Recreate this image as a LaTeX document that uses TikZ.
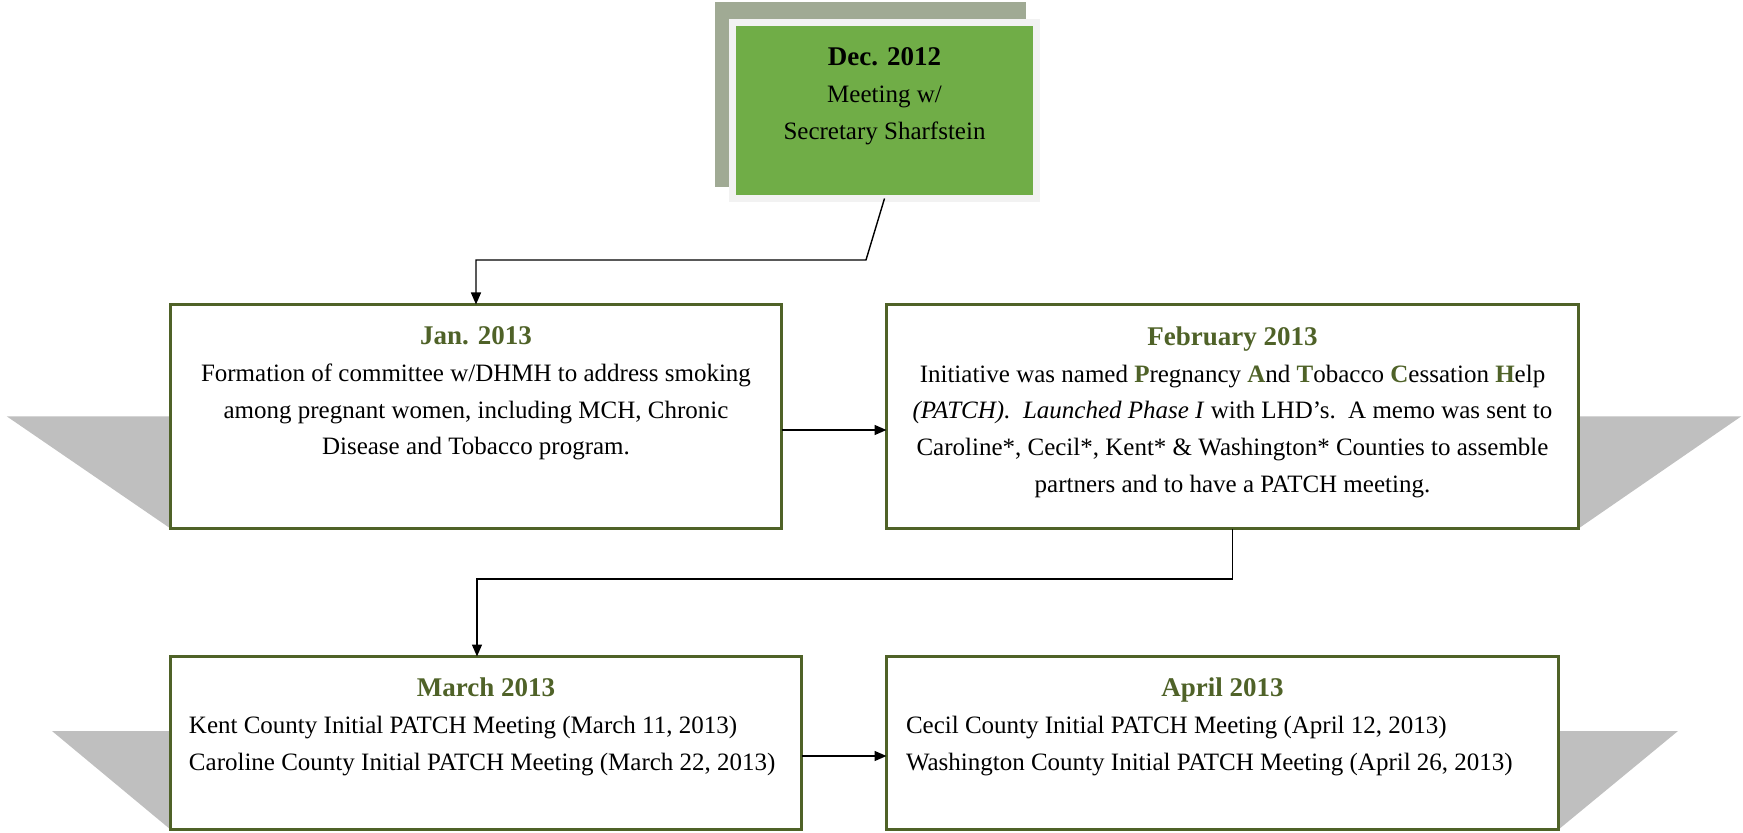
\documentclass[tikz,border=0pt]{standalone}
\usepackage{fontspec}
\setmainfont{Liberation Serif}
\usetikzlibrary{positioning,arrows.meta,backgrounds}

\definecolor{patchgreen}{HTML}{4F6228}
\definecolor{decgreen}{HTML}{70AD47}
\definecolor{decframe}{HTML}{F2F2F2}
\definecolor{decshade}{HTML}{A0AA94}
\definecolor{ribbon}{HTML}{BFBFBF}

\newcommand{\ltr}[1]{\textcolor{patchgreen}{\textbf{#1}}}
\newcommand{\ttl}[1]{{\fontsize{13.5}{18.4}\selectfont\bfseries\color{patchgreen}#1}}

\begin{document}
\begin{tikzpicture}
[every node/.style={inner sep=0mm,outer sep=0mm,font=\fontsize{12.5}{18.4}\selectfont},
 box/.style={rectangle,draw=patchgreen,line width=1.5pt,fill=white},
 decbox/.style={rectangle,fill=decgreen,draw=decframe,line width=3.5pt,minimum width=152pt,minimum height=88pt},
 txt/.style={align=center},
 lst/.style={align=left},
 >={Triangle[length=6pt,width=5pt]},
 line width=0.7pt]
\useasboundingbox (-442.25pt,55.25pt) rectangle (429.25pt,-361.25pt);

\node[decbox] (dec) {};
\node[box,minimum width=305.5pt,minimum height=112pt] (jan) [on grid,below left=153pt and 204.25pt of dec] {};
\node[box,minimum width=346pt,minimum height=112pt]   (feb) [on grid,right=378.25pt of jan] {};
\node[box,minimum width=315.5pt,minimum height=86.5pt] (mar) [on grid,below right=163.25pt and 5pt of jan] {};
\node[box,minimum width=336pt,minimum height=86.5pt]  (apr) [on grid,right=368.25pt of mar] {};

\node[txt] (dectxt) [below=12.75pt of dec.north]
  {{\fontsize{13.5}{18.4}\selectfont\bfseries Dec. 2012}\\Meeting w/\\Secretary Sharfstein};
\node[txt] (jantxt) [below=11pt of jan.north]
  {\ttl{Jan. 2013}\\Formation of committee w/DHMH to address smoking\\among pregnant women, including MCH, Chronic\\Disease and Tobacco program.};
\node[txt] (febtxt) [below=11pt of feb.north]
  {\ttl{February 2013}\\Initiative was named \ltr{P}regnancy \ltr{A}nd \ltr{T}obacco \ltr{C}essation \ltr{H}elp\\
   \textit{(PATCH).}\ \ \textit{Launched Phase I} with LHD's.\ \ A memo was sent to\\
   Caroline*, Cecil*, Kent* \& Washington* Counties to assemble\\partners and to have a PATCH meeting.};
\node[lst] (martxt) [below=10.75pt of mar.north]
  {\makebox[297pt]{\ttl{March 2013}}\\Kent County Initial PATCH Meeting (March 11, 2013)\\Caroline County Initial PATCH Meeting (March 22, 2013)};
\node[lst] (aprtxt) [below=10.75pt of apr.north]
  {\makebox[316.5pt]{\ttl{April 2013}}\\Cecil County Initial PATCH Meeting (April 12, 2013)\\Washington County Initial PATCH Meeting (April 26, 2013)};

\coordinate (k1) at ([xshift=-9.25pt,yshift=-30.75pt]dec.south);
\coordinate (k2) at ([yshift=-25.25pt]feb.south);
\draw[->] (dec.south) -- (k1) -| (jan.north);
\path[->] ([yshift=-6.75pt]jan.east) edge ([yshift=-6.75pt]feb.west);
\draw[->] (feb.south) -- (k2) -| ([xshift=-4.5pt]mar.north);
\path[->] ([yshift=-6.5pt]mar.east) edge ([yshift=-6.5pt]apr.west);

\begin{scope}[on background layer]
\fill[ribbon] ([xshift=-81.75pt]jan.west) -- (jan.west) -- (jan.south west) -- cycle;
\fill[ribbon] (feb.east) -- ([xshift=81.25pt]feb.east) -- (feb.south east) -- cycle;
\fill[ribbon] ([xshift=-59.25pt,yshift=6pt]mar.west) -- ([yshift=6pt]mar.west) -- (mar.south west) -- cycle;
\fill[ribbon] ([yshift=6pt]apr.east) -- ([xshift=59.75pt,yshift=6pt]apr.east) -- (apr.south east) -- cycle;
\fill[decshade] ([xshift=-8.75pt,yshift=10.25pt]dec.north west) rectangle ([xshift=-5.25pt,yshift=5.75pt]dec.south east);
\end{scope}
\end{tikzpicture}
\end{document}
